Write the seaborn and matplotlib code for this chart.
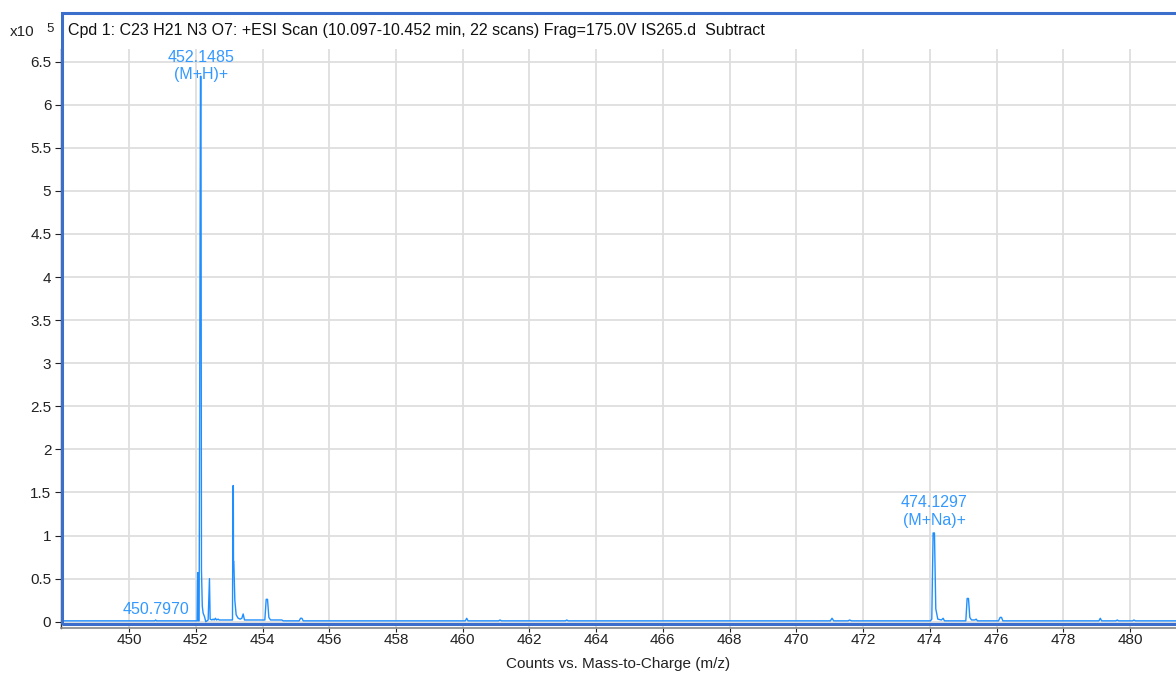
import matplotlib
matplotlib.use("Agg")
import matplotlib.pyplot as plt
import seaborn as sns
import pandas as pd
from matplotlib.patches import Rectangle

# ---- data (intensity in units of 1e5 counts) ----
mz = [447.90, 450.77, 450.797, 450.82, 452.04, 452.055, 452.065, 452.075, 452.10,
      452.14, 452.155, 452.17, 452.195, 452.22, 452.26, 452.30, 452.37, 452.41,
      452.43, 452.48, 452.52, 452.55, 452.59, 452.62, 452.67, 452.70, 453.07,
      453.10, 453.115, 453.125, 453.13, 453.14, 453.17, 453.21, 453.27, 453.33,
      453.38, 453.42, 453.46, 453.55, 454.07, 454.11, 454.15, 454.19, 454.24,
      454.58, 454.62, 455.10, 455.14, 455.18, 455.22, 460.08, 460.12, 460.16,
      461.08, 461.12, 461.16, 463.08, 463.12, 463.16, 471.02, 471.07, 471.12,
      471.55, 471.60, 471.65, 474.02, 474.06, 474.10, 474.14, 474.18, 474.24,
      474.35, 474.40, 474.44, 475.08, 475.12, 475.16, 475.20, 475.25, 475.35,
      475.39, 475.43, 476.06, 476.11, 476.15, 476.19, 479.07, 479.11, 479.15,
      479.58, 479.62, 479.66, 480.08, 480.12, 480.16, 481.50]
counts = [0.01, 0.01, 0.02, 0.01, 0.01, 0.57, 0.57, 0.01, 0.01,
          6.33, 6.33, 0.60, 0.18, 0.10, 0.06, 0.00, 0.02, 0.50,
          0.03, 0.02, 0.03, 0.02, 0.04, 0.02, 0.03, 0.02, 0.02,
          0.02, 1.58, 1.58, 0.70, 0.70, 0.25, 0.08, 0.04, 0.03,
          0.04, 0.09, 0.02, 0.02, 0.02, 0.26, 0.26, 0.05, 0.02,
          0.02, 0.01, 0.01, 0.04, 0.04, 0.01, 0.01, 0.04, 0.01,
          0.01, 0.02, 0.01, 0.01, 0.02, 0.01, 0.01, 0.04, 0.01,
          0.01, 0.02, 0.01, 0.01, 0.03, 1.03, 1.03, 0.15, 0.03,
          0.02, 0.04, 0.01, 0.01, 0.27, 0.27, 0.05, 0.02, 0.02,
          0.03, 0.01, 0.01, 0.05, 0.05, 0.01, 0.01, 0.04, 0.01,
          0.01, 0.02, 0.01, 0.01, 0.02, 0.01, 0.01]

label_mz = [452.1485, 474.1297, 450.7970]
label_h = [6.33, 1.03, 0.02]
label_num = ["452.1485", "474.1297", "450.7970"]
label_ion = ["(M+H)+", "(M+Na)+", ""]

x_ticks = [450, 452, 454, 456, 458, 460, 462, 464, 466, 468, 470, 472, 474, 476, 478, 480]
y_ticks = [0, 0.5, 1, 1.5, 2, 2.5, 3, 3.5, 4, 4.5, 5, 5.5, 6, 6.5]
y_ticklabels = ["0", "0.5", "1", "1.5", "2", "2.5", "3", "3.5", "4", "4.5", "5", "5.5", "6", "6.5"]

title = "Cpd 1: C23 H21 N3 O7: +ESI Scan (10.097-10.452 min, 22 scans) Frag=175.0V IS265.d  Subtract"
xlabel = "Counts vs. Mass-to-Charge (m/z)"

# ---- figure ----
sns.set_style("white")
plt.rcParams["font.family"] = ["Liberation Sans", "DejaVu Sans"]

W, H = 1176, 673
fig = plt.figure(figsize=(W / 100, H / 100), dpi=100)
ax_l, ax_t, ax_r, ax_b = 61, 49, 1176, 628
ax = fig.add_axes([ax_l / W, 1 - ax_b / H, (ax_r - ax_l) / W, (ax_b - ax_t) / H])

df = pd.DataFrame({"mz": mz, "counts": counts})
line_color = "#1f8fff"
sns.lineplot(data=df, x="mz", y="counts", ax=ax, sort=False, estimator=None,
             color=line_color, linewidth=1.0)

ax.set_xlim(447.96, 481.38)
ax.set_ylim(-0.073, 6.647)
ax.set_xticks(x_ticks)
ax.set_xticklabels([str(t) for t in x_ticks])
ax.set_yticks(y_ticks)
ax.set_yticklabels(y_ticklabels)
ax.grid(True, color="#dedede", linewidth=1.3)
ax.set_axisbelow(True)
ax.tick_params(axis="both", labelsize=11, colors="#222222", length=4, width=0.8,
               direction="out", left=True, bottom=True, pad=3)
ax.tick_params(axis="x", length=3, pad=0.5)
ax.set_xlabel(xlabel, fontsize=11, color="#222222", labelpad=7)
ax.set_ylabel("")
for s in ["top", "right"]:
    ax.spines[s].set_visible(False)
ax.spines["left"].set_color("#333333")
ax.spines["left"].set_linewidth(1.0)
ax.spines["bottom"].set_color("#888888")
ax.spines["bottom"].set_linewidth(1.2)

# annotations
px = 0.72  # points per pixel
offsets = [(19, 2), (30, 12), (10, 0)]
for m, h, num, ion, (o1, o2) in zip(label_mz, label_h, label_num, label_ion, offsets):
    ax.annotate(num, xy=(m, h), xytext=(0, o1 * px), textcoords="offset points",
                ha="center", va="center", fontsize=11.5, color="#3399ff")
    if ion:
        ax.annotate(ion, xy=(m, h), xytext=(0, o2 * px), textcoords="offset points",
                    ha="center", va="center", fontsize=11.5, color="#3399ff")

# blue frame
frame = Rectangle((62.5 / W, 1 - 624 / H), (W + 10 - 62.5) / W, (624 - 13) / H,
                  transform=fig.transFigure, fill=False, edgecolor="#3b6fcb",
                  linewidth=2.2, clip_on=False, zorder=5)
fig.add_artist(frame)

fig.text(68 / W, 1 - 30 / H, title, fontsize=11.5, color="#111111", ha="left", va="center")
fig.text(10 / W, 1 - 32 / H, "x10", fontsize=11, color="#222222", ha="left", va="center")
fig.text(46 / W, 1 - 29 / H, "5", fontsize=9.5, color="#222222", ha="left", va="center")

fig.savefig("out.png", dpi=100)
